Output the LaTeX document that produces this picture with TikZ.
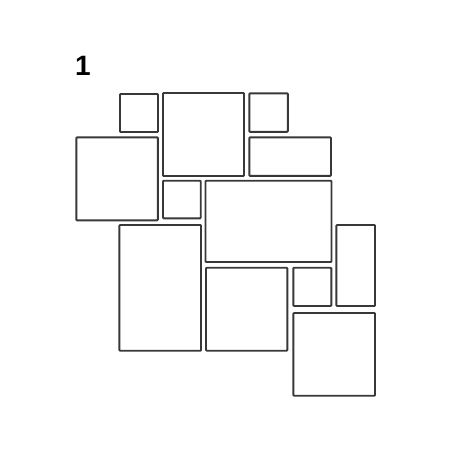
\documentclass[tikz,border=0pt]{standalone}
\usepackage{fontspec}
\setmainfont{Liberation Sans}
\begin{document}
\begin{tikzpicture}[x=1pt,y=-1pt,
  tile/.style={draw=black!78,line width=1.9pt,rounded corners=0.8pt,fill=white,
    inner sep=0pt,outer sep=0pt,anchor=north west},
  label/.style={font=\bfseries\fontsize{28}{28}\selectfont,inner sep=0pt}]
\useasboundingbox (0,0) rectangle (452,452);
\node[label] (num) at (83,66) {1};
\node[tile,minimum width=38pt,minimum height=38pt] (a) at (120,94) {};
\node[tile,minimum width=81pt,minimum height=83pt] (b) at (163,93) {};
\node[tile,minimum width=38.5pt,minimum height=38.5pt] (c) at (249.3,93.3) {};
\node[tile,minimum width=81.5pt,minimum height=83pt] (d) at (76.3,137.3) {};
\node[tile,minimum width=81.7pt,minimum height=38.5pt] (e) at (249.3,137.3) {};
\node[tile,minimum width=37.7pt,minimum height=37.6pt] (f) at (163,180.7) {};
\node[tile,minimum width=126pt,minimum height=81.3pt] (g) at (205.5,180.7) {};
\node[tile,minimum width=81.7pt,minimum height=125.7pt] (h) at (119.3,225) {};
\node[tile,minimum width=38.7pt,minimum height=81pt] (i) at (336.3,225) {};
\node[tile,minimum width=81.3pt,minimum height=83pt] (j) at (206,267.7) {};
\node[tile,minimum width=38pt,minimum height=38.3pt] (k) at (293.3,267.7) {};
\node[tile,minimum width=81.7pt,minimum height=82.7pt] (l) at (293.3,313) {};
\end{tikzpicture}
\end{document}
